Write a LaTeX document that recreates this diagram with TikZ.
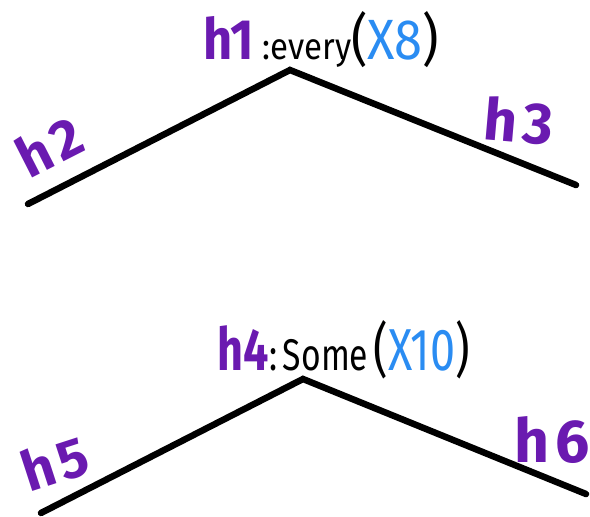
\documentclass[tikz,border=0pt]{standalone}
\usepackage{fontspec}
\setmainfont{Fira Sans}
\usepackage{graphicx}
\definecolor{hpurple}{HTML}{6A1AB0}
\definecolor{hblue}{HTML}{2A8CF2}
\tikzset{
  stroke/.style={line width=6.5pt, line cap=round, line join=miter, black},
  hlabel/.style={inner sep=0pt, text=hpurple, font=\fontsize{44}{44}\selectfont\bfseries},
}
\begin{document}
\begin{tikzpicture}[x=1pt,y=-1pt]
\useasboundingbox (0,0) rectangle (590,517);
% top tree
\coordinate (l1) at (28,204);
\coordinate (a1) at (290,70);
\coordinate (r1) at (576,185);
\draw[stroke] (l1) -- (a1) -- (r1);
\node[inner sep=0pt, anchor=center] (h1) at (321,40)
  {\resizebox{236pt}{48pt}{\fontsize{40}{40}\selectfont\textcolor{hpurple}{\bfseries h1}\,\fontsize{26}{26}\selectfont:every\fontsize{40}{40}\selectfont(\textcolor{hblue}{X8})}};
\node[hlabel, rotate=27] (h2) at (49,146) {\resizebox{!}{42pt}{h\kern4pt 2}};
\node[hlabel, rotate=-5] (h3) at (519,121) {\resizebox{!}{44pt}{h\kern4pt 3}};
% bottom tree
\coordinate (l2) at (41,513);
\coordinate (a2) at (303,379);
\coordinate (r2) at (586,494);
\draw[stroke] (l2) -- (a2) -- (r2);
\node[inner sep=0pt, anchor=center] (h4) at (344,350)
  {\resizebox{252pt}{50pt}{\fontsize{40}{40}\selectfont\textcolor{hpurple}{\bfseries h4}\fontsize{30}{30}\selectfont:\,Some\,\fontsize{40}{40}\selectfont(\textcolor{hblue}{X10})}};
\node[hlabel, rotate=18] (h5) at (55,463) {\resizebox{!}{42pt}{h\kern4pt 5}};
\node[hlabel, rotate=0] (h6) at (552,440) {\resizebox{!}{46pt}{h\kern4pt 6}};
\end{tikzpicture}
\end{document}
